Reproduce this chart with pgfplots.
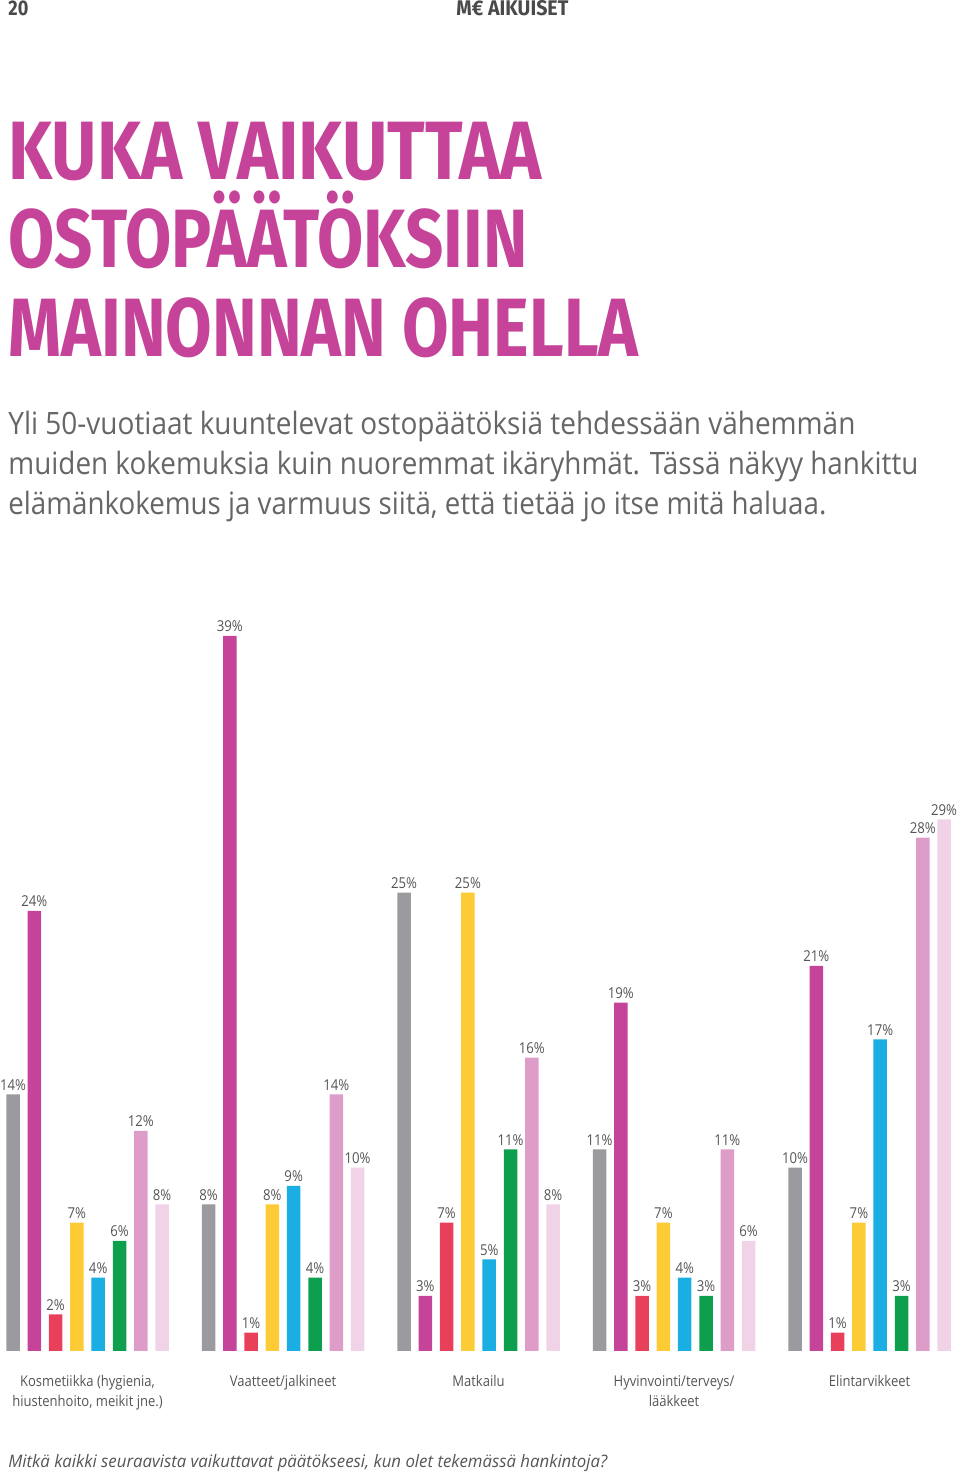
\documentclass[border=0pt]{standalone}
\usepackage{fontspec}
\setmainfont{Open Sans}
\newfontfamily\labfont{Open Sans}[FakeStretch=0.88]
\newfontfamily\headfont{Fira Sans}
\usepackage{graphicx}
\usepackage{pgfplots}
\pgfplotsset{compat=1.18}
\definecolor{cgray}{HTML}{9B9B9F}
\definecolor{cmag}{HTML}{C5449A}
\definecolor{cred}{HTML}{E8405A}
\definecolor{cyel}{HTML}{FCCB35}
\definecolor{cblue}{HTML}{1AAEE3}
\definecolor{cgreen}{HTML}{0E9F4E}
\definecolor{cpink}{HTML}{DE9CC8}
\definecolor{clight}{HTML}{F0D3E7}
\definecolor{labgray}{HTML}{555555}
\definecolor{pargray}{HTML}{666666}
\definecolor{hdrgray}{HTML}{4A4A4A}
\begin{document}
\begin{tikzpicture}[x=0.5pt,y=0.5pt]
\path[use as bounding box] (0,0) rectangle (960,1475);
% header
\node[anchor=base west, inner sep=0, text=hdrgray] at (8,1459) {\resizebox{10pt}{\height}{\headfont\bfseries\fontsize{10.6pt}{12pt}\selectfont 20}};
\node[anchor=base west, inner sep=0, text=hdrgray] at (456,1459) {\resizebox{56pt}{\height}{\headfont\bfseries\fontsize{10.6pt}{12pt}\selectfont M€ AIKUISET}};
% title
\node[anchor=base west, inner sep=0, text=cmag] at (8,1295) {\resizebox{266.5pt}{\height}{\headfont\bfseries\fontsize{41.4pt}{48pt}\selectfont KUKA VAIKUTTAA}};
\node[anchor=base west, inner sep=0, text=cmag] at (8,1207) {\resizebox{259.5pt}{\height}{\headfont\bfseries\fontsize{41.4pt}{48pt}\selectfont OSTOPÄÄTÖKSIIN}};
\node[anchor=base west, inner sep=0, text=cmag] at (8,1118) {\resizebox{315pt}{\height}{\headfont\bfseries\fontsize{41.4pt}{48pt}\selectfont MAINONNAN OHELLA}};
% paragraph
\node[anchor=base west, inner sep=0, text=pargray] at (8,1040) {\resizebox{423.5pt}{\height}{\fontsize{15.4pt}{20pt}\selectfont Yli 50-vuotiaat kuuntelevat ostopäätöksiä tehdessään vähemmän}};
\node[anchor=base west, inner sep=0, text=pargray] at (8,1000) {\resizebox{455pt}{\height}{\fontsize{15.4pt}{20pt}\selectfont muiden kokemuksia kuin nuoremmat ikäryhmät. Tässä näkyy hankittu}};
\node[anchor=base west, inner sep=0, text=pargray] at (8,960) {\resizebox{409pt}{\height}{\fontsize{15.4pt}{20pt}\selectfont elämänkokemus ja varmuus siitä, että tietää jo itse mitä haluaa.}};
% chart
\begin{axis}[at={(0pt,62pt)}, anchor=south west, scale only axis,
  width=480pt, height=366.67pt,
  xmin=0, xmax=960, ymin=0, ymax=40,
  hide axis, clip=false,
  ybar, bar width=13.5,
  every axis plot/.append style={bar shift=0pt, draw=none},
  point meta=y,
  /pgf/number format/assume math mode=true,
  nodes near coords={\pgfmathprintnumber{\pgfplotspointmeta}\%},
  every node near coord/.append style={text=labgray, font=\labfont\fontsize{7.5pt}{9pt}\selectfont, inner sep=1.8pt},
]
\addplot[fill=cgray, bar shift=0pt] coordinates {(13,14) (208.5,8) (404,25) (599.5,11) (795,10)};
\addplot[fill=cmag, bar shift=0pt] coordinates {(34.3,24) (229.8,39) (425.3,3) (620.8,19) (816.3,21)};
\addplot[fill=cred, bar shift=0pt] coordinates {(55.6,2) (251.1,1) (446.6,7) (642.1,3) (837.6,1)};
\addplot[fill=cyel, bar shift=0pt] coordinates {(76.9,7) (272.4,8) (467.9,25) (663.4,7) (858.9,7)};
\addplot[fill=cblue, bar shift=0pt] coordinates {(98.2,4) (293.7,9) (489.2,5) (684.7,4) (880.2,17)};
\addplot[fill=cgreen, bar shift=0pt] coordinates {(119.5,6) (315,4) (510.5,11) (706,3) (901.5,3)};
\addplot[fill=cpink, bar shift=0pt] coordinates {(140.8,12) (336.3,14) (531.8,16) (727.3,11) (922.8,28)};
\addplot[fill=clight, bar shift=0pt] coordinates {(162.1,8) (357.6,10) (553.1,8) (748.6,6) (944.1,29)};
\end{axis}
% category labels
\begin{scope}[every node/.style={anchor=base, inner sep=0, text=labgray, font=\labfont\fontsize{7.4pt}{9pt}\selectfont}]
\node at (87.5,88) {Kosmetiikka (hygienia,};
\node at (87.5,68) {hiustenhoito, meikit jne.)};
\node at (283,88) {Vaatteet/jalkineet};
\node at (478.5,88) {Matkailu};
\node at (674,88) {Hyvinvointi/terveys/};
\node at (674,68) {lääkkeet};
\node at (869.5,88) {Elintarvikkeet};
\end{scope}
% question
\node[anchor=base west, inner sep=0, text=labgray] at (8,8) {\resizebox{299.5pt}{\height}{\itshape\fontsize{8.6pt}{10pt}\selectfont Mitkä kaikki seuraavista vaikuttavat päätökseesi, kun olet tekemässä hankintoja?}};
\end{tikzpicture}
\end{document}
